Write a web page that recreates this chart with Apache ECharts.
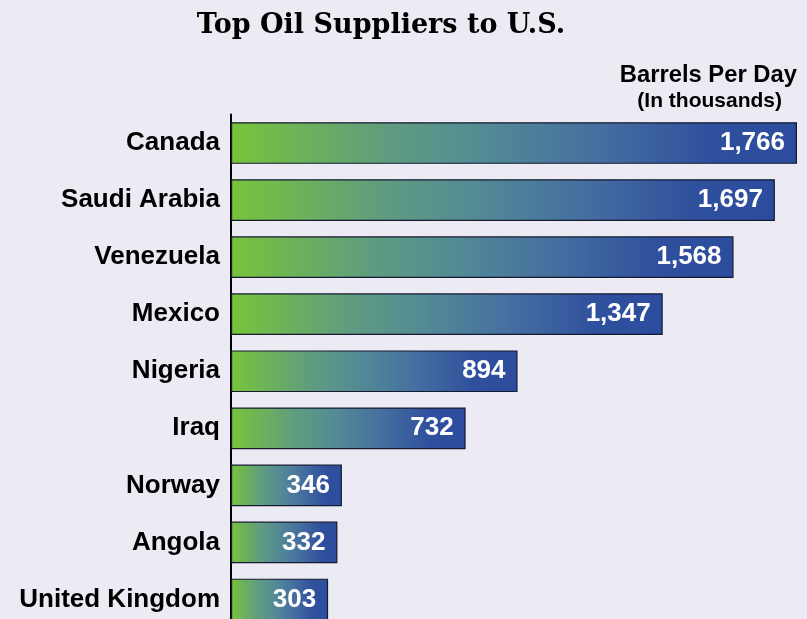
<!DOCTYPE html>
<html><head><meta charset="utf-8">
<script src="https://cdn.jsdelivr.net/npm/echarts@6/dist/echarts.min.js"></script>
<style>html,body{margin:0;padding:0;background:#ecebf4;overflow:hidden;}#c{width:807px;height:628px;}</style>
</head><body><div id="c"></div>
<script>
const categories = ["Canada","Saudi Arabia","Venezuela","Mexico","Nigeria","Iraq","Norway","Angola","United Kingdom"];
const values = [1766,1697,1568,1347,894,732,346,332,303];
const titleText = "Top Oil Suppliers to U.S.";
const unitLine1 = "Barrels Per Day";
const unitLine2 = "(In thousands)";

const chart = echarts.init(document.getElementById('c'));
const grad = new echarts.graphic.LinearGradient(0,0,1,0,[
  {offset:0,color:'#78c43a'},
  {offset:0.28,color:'#5f9c80'},
  {offset:0.45,color:'#538a95'},
  {offset:0.65,color:'#456ea0'},
  {offset:0.85,color:'#2f509d'},
  {offset:1,color:'#2d4c9e'}
]);
chart.setOption({
  backgroundColor:'#ecebf4',
  animation:false,
  title:[
    {text:titleText,left:376,top:7,textAlign:'center',textStyle:{fontFamily:'DejaVu Serif',fontWeight:'bold',fontSize:27,color:'#000'}},
  ],
  graphic:[
    {type:'text',right:10,top:63,style:{text:unitLine1,font:'bold 23.8px "Liberation Sans", Arial',fill:'#000',textAlign:'right'}},
    {type:'text',right:25,top:91,style:{text:unitLine2,font:'bold 21px "Liberation Sans", Arial',fill:'#000',textAlign:'right'}}
  ],
  grid:{left:231,right:10,top:114.5,bottom:0,containLabel:false},
  xAxis:{type:'value',min:0,max:1766,show:false},
  yAxis:{type:'category',data:categories,inverse:true,
    axisLine:{show:true,lineStyle:{color:'#000',width:2}},
    axisTick:{show:false},
    axisLabel:{margin:11,fontFamily:'Liberation Sans',fontWeight:'bold',fontSize:26,color:'#000'}
  },
  series:[{type:'bar',data:values,barCategoryGap:'27%',
    itemStyle:{color:grad,borderColor:'#141a30',borderWidth:1.2},
    label:{show:true,position:'insideRight',distance:12,
      formatter:p=>p.value.toLocaleString('en-US'),
      fontFamily:'Liberation Sans',fontWeight:'bold',fontSize:26,color:'#fff'}
  }]
});
</script></body></html>
